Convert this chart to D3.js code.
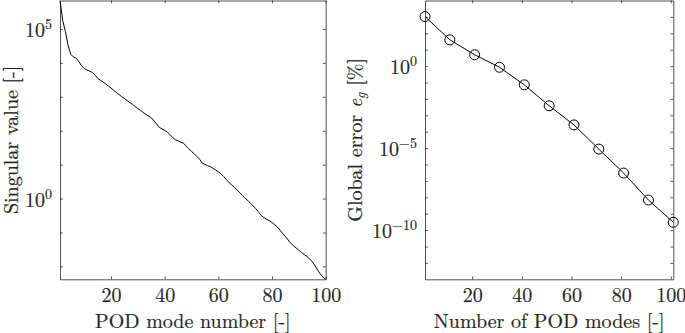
<!DOCTYPE html>
<html lang="en">
<head>
<meta charset="UTF-8">
<title>POD modes</title>
<script src="https://d3js.org/d3.v7.min.js"></script>
<style>
    body { margin: 0; background: #fff; }
    .axis path, .axis line { stroke: #262626; stroke-width: 0.8px; }
</style>
</head>
<body>
<svg id="chart" width="685" height="333" style="font-family: 'Latin Modern Roman', 'Liberation Serif', serif;"></svg>
<script>
// singular values of POD modes 1..100
const singularValues = [
    6.9e5, 1.8e5, 8.5e4, 3.3e4, 1.8e4, 1.5e4, 1.38e4, 1.10e4, 8.3e3, 6.8e3,
    6.2e3, 5.75e3, 5.25e3, 4.37e3, 3.55e3, 3.09e3, 2.75e3, 2.40e3, 2.09e3, 1.82e3,
    1.55e3, 1.35e3, 1.17e3, 1.0e3, 891, 776, 676, 603, 513, 447,
    398, 347, 302, 269, 240, 195, 158, 126, 112, 102,
    91.2, 75.9, 63.1, 53.7, 50.1, 45.7, 42.7, 35.5, 29.5, 24.5,
    20.9, 17.4, 14.5, 11.0, 10.2, 9.33, 8.71, 7.76, 6.92, 6.17,
    5.37, 4.47, 3.63, 2.95, 2.51, 2.14, 1.78, 1.48, 1.23, 1.02,
    0.871, 0.724, 0.603, 0.501, 0.398, 0.316, 0.275, 0.245, 0.224, 0.195,
    0.170, 0.145, 0.117, 0.0933, 0.0759, 0.0603, 0.0479, 0.0407, 0.0347, 0.0302,
    0.0257, 0.0224, 0.0195, 0.0166, 0.0138, 0.0107, 0.00776, 0.00603, 0.00479, 0.00417
];

// global error vs number of modes (right panel)
const errorModes = [1, 11, 21, 31, 41, 51, 61, 71, 81, 91, 101];
const errorValues = [1.05e3, 40, 4.9, 0.85, 0.072, 3.8e-3, 2.6e-4, 8.7e-6, 3.0e-7, 6.8e-9, 3.0e-10];

const xTicks = [20, 40, 60, 80, 100];
const leftDecades = [-2, -1, 0, 1, 2, 3, 4, 5];
const leftLabels = [0, 5];
const rightDecades = [-12, -11, -10, -9, -8, -7, -6, -5, -4, -3, -2, -1, 0, 1, 2, 3];
const rightLabels = [-10, -5, 0];

const font = "'Latin Modern Roman', 'Liberation Serif', serif";
const ink = '#262626';
const svg = d3.select('#chart');
const tick = 2.8;

// writes 10^n with a raised exponent into an axis label
function powerLabel(text, exp) {
    text.text(null);
    text.append('tspan').text('10');
    text.append('tspan')
        .attr('dy', -8)
        .style('font-size', '14px')
        .text(exp < 0 ? '\u2212' + (-exp) : exp);
}

function styleText(sel, size) {
    sel.attr('font-family', null)
        .style('font-family', font)
        .style('font-size', size + 'px')
        .style('fill', ink)
        .style('stroke', ink)
        .style('stroke-width', '0.2px');
}

function drawPanel(opt) {
    const x = d3.scaleLinear().domain(opt.xDomain).range([opt.left, opt.right]);
    const y = d3.scaleLog().domain(opt.yDomain).range([opt.bottom, opt.top]);
    const g = svg.append('g');

    // bottom axis with labels
    const bottom = g.append('g')
        .attr('class', 'axis')
        .attr('transform', `translate(0,${opt.bottom})`)
        .call(d3.axisBottom(x).tickValues(xTicks).tickSizeInner(-tick).tickSizeOuter(0).tickPadding(8));
    styleText(bottom.selectAll('text'), 20);

    // top axis, ticks only
    g.append('g')
        .attr('class', 'axis')
        .attr('transform', `translate(0,${opt.top})`)
        .call(d3.axisTop(x).tickValues(xTicks).tickSizeInner(-tick).tickSizeOuter(0).tickFormat(''));

    // left axis, labels only at some decades
    const left = g.append('g')
        .attr('class', 'axis')
        .attr('transform', `translate(${opt.left},0)`)
        .call(d3.axisLeft(y).tickValues(opt.decades.map(d => Math.pow(10, d)))
            .tickSizeInner(-tick).tickSizeOuter(0).tickPadding(8).tickFormat(''));
    styleText(left.selectAll('.tick text'), 20);
    left.selectAll('.tick text')
        .attr('dy', 7.5)
        .each(function (d) {
            const e = Math.round(Math.log10(d));
            if (opt.labels.includes(e)) powerLabel(d3.select(this), e);
        });

    // right axis, ticks only
    g.append('g')
        .attr('class', 'axis')
        .attr('transform', `translate(${opt.right},0)`)
        .call(d3.axisRight(y).tickValues(opt.decades.map(d => Math.pow(10, d)))
            .tickSizeInner(-tick).tickSizeOuter(0).tickFormat(''));

    g.selectAll('.axis .domain').attr('fill', 'none');

    // x label
    const xl = g.append('text')
        .attr('x', (opt.left + opt.right) / 2)
        .attr('y', 328)
        .attr('text-anchor', 'middle')
        .text(opt.xLabel);
    styleText(xl, 20);

    const yl = g.append('text')
        .attr('transform', `translate(${opt.yLabelX},${(opt.top + opt.bottom) / 2}) rotate(-90)`)
        .attr('text-anchor', 'middle');
    styleText(yl, 20);
    opt.yLabel(yl);

    return { g, x, y };
}

// left: singular values
const p1 = drawPanel({
    left: 60, right: 325.7, top: 0.5, bottom: 279.3,
    xDomain: [1, 100],
    yDomain: [d3.min(singularValues), d3.max(singularValues)],
    decades: leftDecades, labels: leftLabels,
    xLabel: 'POD mode number [-]',
    yLabelX: 18,
    yLabel: t => t.text('Singular value [-]')
});

p1.g.append('path')
    .datum(singularValues)
    .attr('fill', 'none')
    .attr('stroke', '#000')
    .attr('stroke-width', 1)
    .attr('d', d3.line()
        .x((d, i) => p1.x(i + 1))
        .y(d => p1.y(d)));

// right: global error
const p2 = drawPanel({
    left: 425, right: 673.3, top: 0.5, bottom: 279.3,
    xDomain: [1, 101],
    yDomain: [1e-13, 1e4],
    decades: rightDecades, labels: rightLabels,
    xLabel: 'Number of POD modes [-]',
    yLabelX: 361.5,
    yLabel: t => {
        t.append('tspan').text('Global error ');
        t.append('tspan').style('font-style', 'italic').text('e');
        t.append('tspan').style('font-style', 'italic').style('font-size', '14px').attr('dy', 3.5).text('g');
        t.append('tspan').attr('dy', -3.5).text(' [%]');
    }
});

const errData = errorModes.map((m, i) => ({ m, v: errorValues[i] }));

p2.g.append('path')
    .datum(errData)
    .attr('fill', 'none')
    .attr('stroke', '#000')
    .attr('stroke-width', 1)
    .attr('d', d3.line().x(d => p2.x(d.m)).y(d => p2.y(d.v)));

p2.g.selectAll('.marker')
    .data(errData)
    .enter()
    .append('circle')
    .attr('class', 'marker')
    .attr('cx', d => p2.x(d.m))
    .attr('cy', d => p2.y(d.v))
    .attr('r', 5)
    .attr('fill', 'none')
    .attr('stroke', '#000')
    .attr('stroke-width', 1);
</script>
</body>
</html>
